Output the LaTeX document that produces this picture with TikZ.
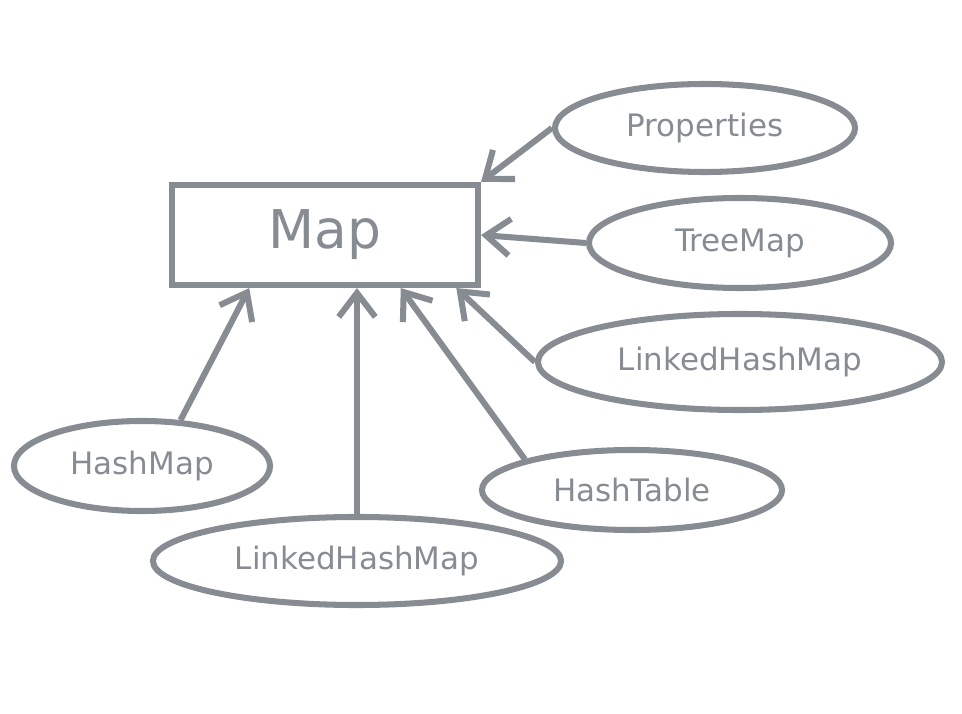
\documentclass[tikz,border=0pt]{standalone}
\usepackage{fontspec}
\setmainfont{DejaVu Sans}
\usetikzlibrary{arrows.meta,shapes.geometric}
\definecolor{pen}{HTML}{878C93}
\begin{document}
\begin{tikzpicture}[
  x=0.025cm, y=-0.025cm,
  every node/.style={text=pen},
  line width=4.3pt, draw=pen,
  cls/.style={draw=pen, ellipse, inner sep=0pt, font=\fontsize{22}{26}\selectfont},
  base/.style={draw=pen, rectangle, minimum width=7.65cm, minimum height=2.5cm, font=\fontsize{38}{44}\selectfont},
  >={Straight Barb[length=17pt,width=26pt]}
]
\useasboundingbox (0,0) rectangle (962,714);
\node[base] (map) at (325,235) {Map};
\node[cls, minimum width=7.5cm, minimum height=2.2cm] (prop) at (705,128) {Properties};
\node[cls, minimum width=7.55cm, minimum height=2.25cm] (tree) at (740,243) {TreeMap};
\node[cls, minimum width=10.1cm, minimum height=2.4cm] (lhmr) at (740,362) {LinkedHashMap};
\node[cls, minimum width=7.5cm, minimum height=2.0cm] (htab) at (632,490) {HashTable};
\node[cls, minimum width=6.4cm, minimum height=2.25cm] (hmap) at (142,466) {HashMap};
\node[cls, minimum width=10.2cm, minimum height=2.2cm] (lhmb) at (357,561) {LinkedHashMap};
\draw[->, pen] (prop.west) -- (map.north east);
\draw[->, pen] (tree.west) -- (map.east);
\draw[->, pen] (lhmr.west) -- (map.-22);
\draw[->, pen] (htab.164) -- (map.-35);
\draw[->, pen] (lhmb.north) -- (lhmb.north |- map.south);
\draw[->, pen] (hmap.50) -- (map.215);
\end{tikzpicture}
\end{document}
